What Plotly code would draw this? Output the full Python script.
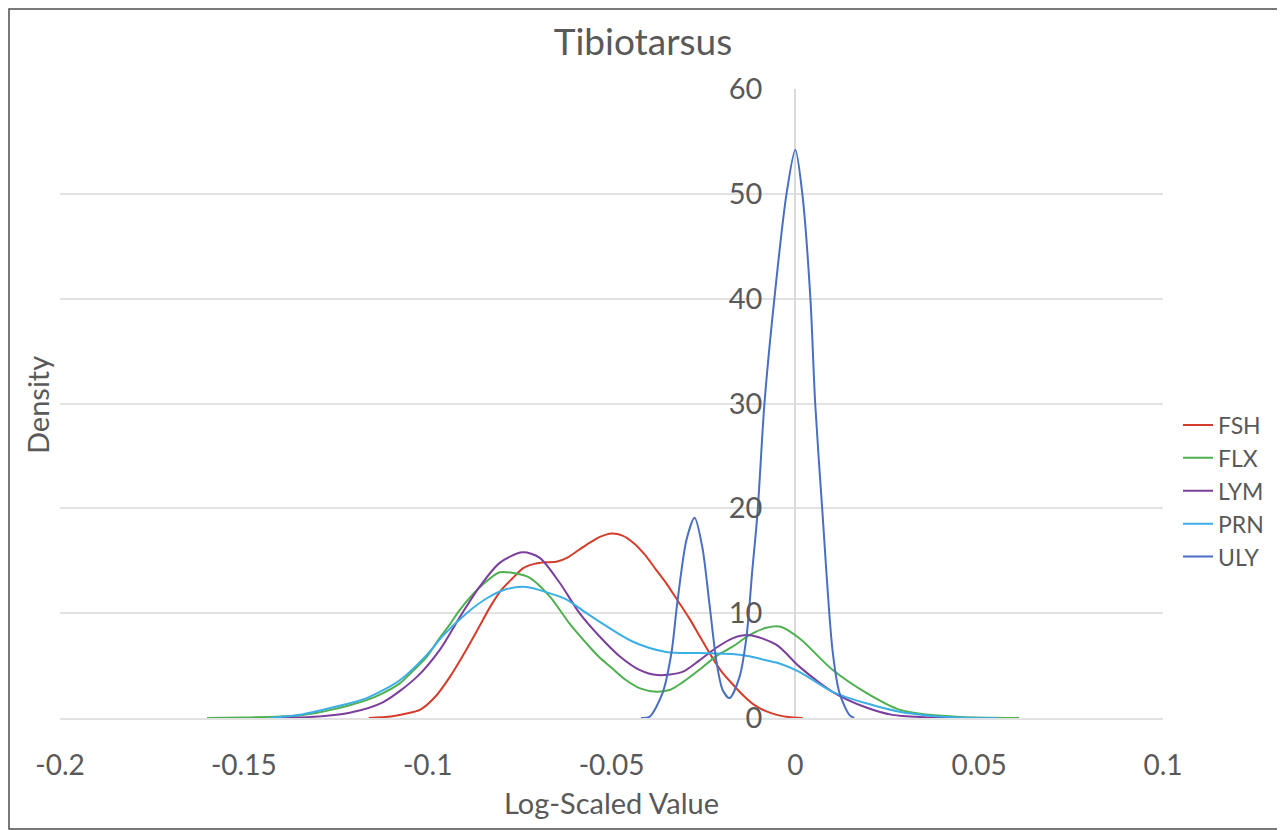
import plotly.graph_objects as go

# ---- data ----
series_names = ["FSH", "FLX", "LYM", "PRN", "ULY"]
series_colors = ["#D43D2B", "#4FB050", "#7A3E9C", "#3BAEE6", "#4A6FC2"]

fsh_x = [-0.116, -0.110, -0.106, -0.102, -0.098, -0.094, -0.090, -0.086, -0.083, -0.080,
         -0.077, -0.074, -0.071, -0.068, -0.065, -0.062, -0.059, -0.056, -0.053, -0.050,
         -0.047, -0.044, -0.041, -0.038, -0.035, -0.032, -0.029, -0.026, -0.023, -0.020,
         -0.017, -0.014, -0.011, -0.008, -0.005, -0.002, 0.002]
fsh_y = [0.0, 0.15, 0.4, 0.8, 2.0, 3.9, 6.2, 8.7, 10.6, 12.2,
         13.3, 14.3, 14.7, 14.85, 14.9, 15.3, 16.0, 16.7, 17.3, 17.6,
         17.4, 16.7, 15.6, 14.2, 12.8, 11.2, 9.6, 7.8, 6.0, 4.4,
         3.2, 2.1, 1.2, 0.65, 0.3, 0.1, 0.0]

flx_x = [-0.160, -0.150, -0.140, -0.135, -0.130, -0.126, -0.1215, -0.1166, -0.112, -0.1076,
         -0.104, -0.1003, -0.097, -0.094, -0.0913, -0.0851, -0.0804, -0.0763, -0.0723, -0.0668,
         -0.0614, -0.056, -0.0533, -0.050, -0.046, -0.042, -0.0378, -0.034, -0.0307, -0.0261,
         -0.0215, -0.0171, -0.0125, -0.0079, -0.004, 0.0011, 0.0101, 0.0193, 0.0283, 0.0364,
         0.0446, 0.0609]
flx_y = [0.0, 0.05, 0.15, 0.25, 0.5, 0.8, 1.2, 1.7, 2.4, 3.3,
         4.5, 5.8, 7.5, 8.9, 10.3, 12.7, 13.9, 13.8, 13.4, 11.6,
         9.0, 6.8, 5.8, 4.8, 3.6, 2.8, 2.5, 2.7, 3.4, 4.6,
         5.9, 6.8, 7.9, 8.6, 8.7, 7.6, 4.6, 2.4, 0.8, 0.3,
         0.1, 0.0]

lym_x = [-0.140, -0.1348, -0.128, -0.1212, -0.1122, -0.1030, -0.0967, -0.0913, -0.0859, -0.0804,
         -0.0742, -0.0696, -0.0641, -0.0587, -0.0533, -0.0478, -0.0424, -0.0375, -0.0307, -0.0261,
         -0.0215, -0.0171, -0.0125, -0.0052, 0.0011, 0.0101, 0.0193, 0.0264, 0.035, 0.045]
lym_y = [0.0, 0.05, 0.2, 0.5, 1.5, 3.9, 6.5, 9.6, 12.5, 14.8,
         15.8, 15.3, 12.9, 10.0, 7.8, 5.9, 4.6, 4.1, 4.4, 5.5,
         6.7, 7.6, 7.9, 7.0, 4.9, 2.5, 1.0, 0.3, 0.08, 0.0]

prn_x = [-0.143, -0.1348, -0.126, -0.1166, -0.1076, -0.1003, -0.0957, -0.0894, -0.0840, -0.0785,
         -0.0731, -0.0677, -0.0622, -0.0568, -0.0533, -0.0443, -0.0351, -0.0261, -0.0171,
         -0.0125, -0.0079, -0.0043, 0.0011, 0.0101, 0.0193, 0.0283, 0.036, 0.045, 0.055]
prn_y = [0.0, 0.3, 1.0, 1.9, 3.6, 6.0, 7.9, 10.0, 11.4, 12.3,
         12.5, 12.0, 11.3, 10.0, 9.2, 7.3, 6.3, 6.2, 6.1,
         5.9, 5.5, 5.2, 4.4, 2.5, 1.4, 0.6, 0.25, 0.05, 0.0]

uly_x = [-0.042, -0.0397, -0.0361, -0.0337, -0.0321, -0.0296, -0.0274, -0.0253, -0.0234, -0.0215,
         -0.0198, -0.0179, -0.0152, -0.0133, -0.0117, -0.0103, -0.0084, -0.0057, -0.0024, 0.0,
         0.0019, 0.0041, 0.0054, 0.0073, 0.0101, 0.0120, 0.0147, 0.016]
uly_y = [0.0, 0.1, 2.4, 6.2, 11.0, 17.0, 19.1, 16.3, 11.0, 5.5,
         2.7, 1.9, 3.9, 7.7, 14.1, 19.5, 30.0, 40.0, 50.0, 54.2,
         50.0, 40.0, 30.0, 20.0, 6.5, 2.4, 0.3, 0.0]

x_tick_vals = [-0.2, -0.15, -0.1, -0.05, 0, 0.05, 0.1]
x_tick_text = ["-0.2", "-0.15", "-0.1", "-0.05", "0", "0.05", "0.1"]
y_tick_vals = [0, 10, 20, 30, 40, 50, 60]

title_text = "Tibiotarsus"
x_title = "Log-Scaled Value"
y_title = "Density"

# ---- figure ----
FONT = "Lato"
GRAY = "#595959"
GRID = "#E2E2E2"
OFF = 8  # page body margin of the browser

xs = [fsh_x, flx_x, lym_x, prn_x, uly_x]
ys = [fsh_y, flx_y, lym_y, prn_y, uly_y]

fig = go.Figure()
for name, color, x, y in zip(series_names, series_colors, xs, ys):
    fig.add_trace(go.Scatter(x=x, y=y, name=name, mode="lines",
                             line=dict(color=color, width=2, shape="spline", smoothing=0.8)))

W, H = 1285 - OFF, 830 - OFF
L, T = 60 - OFF, 89 - OFF
R = W - (1163 - OFF)
B = H - (718 - OFF)
pw = W - L - R
ph = H - T - B

def sx(px):  # screen x -> paper
    return (px - OFF - L) / pw

def sy(py):  # screen y -> paper
    return (H - B - (py - OFF)) / ph

fig.update_layout(
    width=W, height=H,
    margin=dict(l=L, r=R, t=T, b=B),
    paper_bgcolor="white", plot_bgcolor="white",
    font=dict(family=FONT, color=GRAY),
    title=dict(text=title_text, x=(643 - OFF) / W, xref="container", xanchor="center",
               y=1 - (42 - OFF) / H, yref="container", yanchor="middle",
               font=dict(size=37, color=GRAY, family=FONT)),
    xaxis=dict(range=[-0.2, 0.1], tickvals=x_tick_vals, ticktext=x_tick_text,
               showgrid=False, zeroline=True, zerolinecolor="#D9D9D9", zerolinewidth=1.5,
               showline=True, linecolor=GRID, linewidth=1.5,
               ticks="", ticklabelstandoff=22,
               tickfont=dict(size=28, color=GRAY, family=FONT)),
    yaxis=dict(range=[0, 60], tickvals=y_tick_vals, showgrid=True, gridcolor=GRID, gridwidth=1.5,
               zeroline=False, showline=False, anchor="free",
               position=(0 - (-0.2)) / (0.1 - (-0.2)),
               ticks="", ticklabelstandoff=33,
               tickfont=dict(size=29, color=GRAY, family=FONT)),
    legend=dict(x=sx(1178), y=sy(491), xanchor="left", yanchor="middle",
                font=dict(size=23, color=GRAY, family=FONT), itemwidth=30,
                bgcolor="rgba(0,0,0,0)"),
    showlegend=True,
)

fig.add_annotation(text=x_title, xref="paper", yref="paper", x=0.5, y=sy(802),
                   xanchor="center", yanchor="middle", showarrow=False,
                   font=dict(size=29, color=GRAY, family=FONT))
fig.add_annotation(text=y_title, xref="paper", yref="paper", x=sx(38), y=sy(405),
                   xanchor="center", yanchor="middle", showarrow=False, textangle=-90,
                   font=dict(size=29, color=GRAY, family=FONT))

# outer frame of the picture
fig.add_shape(type="rect", xref="paper", yref="paper",
              x0=sx(OFF + 1), x1=sx(1280),
              y0=sy(829), y1=sy(OFF + 1),
              line=dict(color="#4D4D4D", width=1.5), fillcolor="rgba(0,0,0,0)", layer="below")

fig.write_html("out.html")
